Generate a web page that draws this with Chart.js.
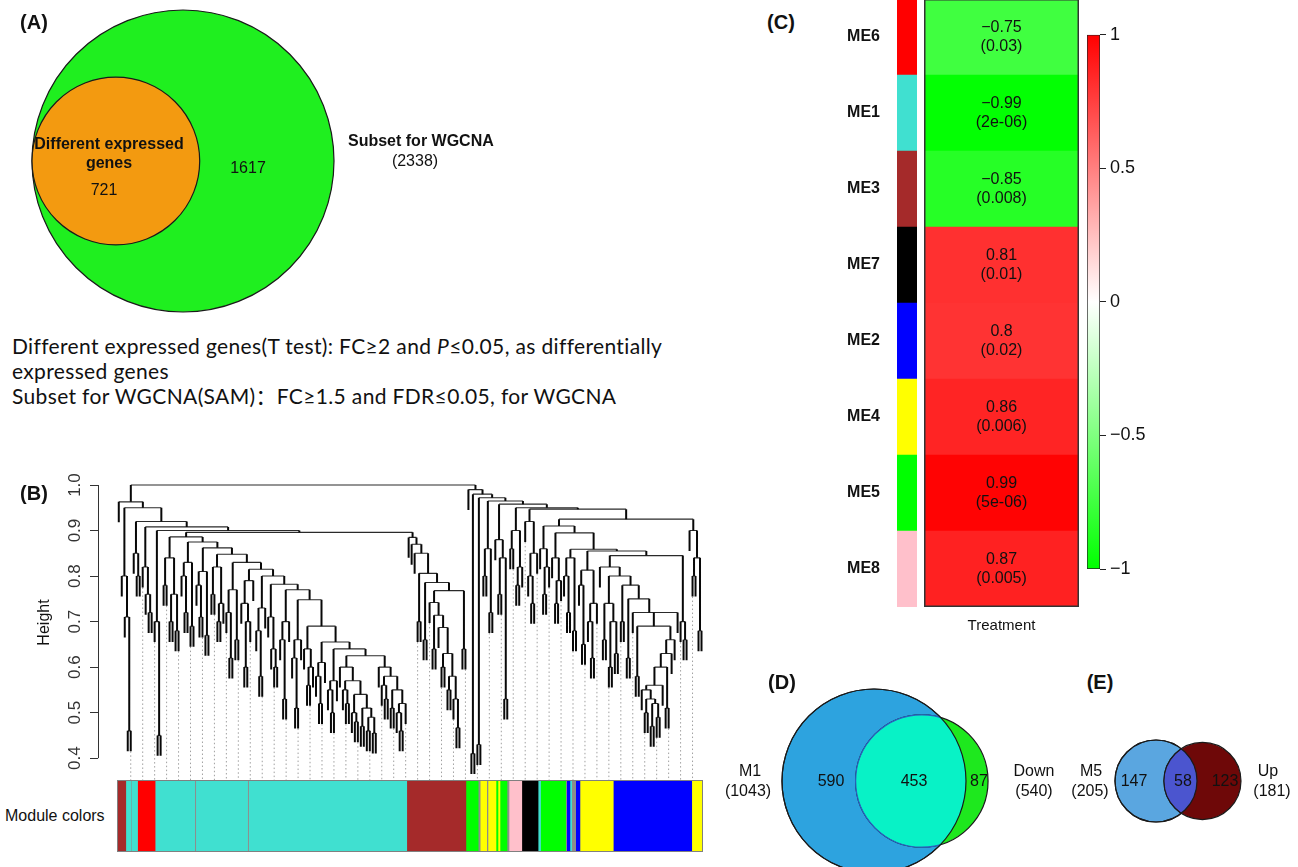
<!DOCTYPE html>
<html>
<head>
<meta charset="utf-8">
<title>WGCNA modules and treatment</title>
<script src="https://cdn.jsdelivr.net/npm/chart.js@4.4.1/dist/chart.umd.min.js"></script>
<style>
  body { margin: 0; background: #fff; }
  #page { position: relative; width: 1298px; height: 867px; overflow: hidden;
          font-family: "Liberation Sans", Arial, sans-serif; color: #111; }
  #page canvas { position: absolute; }
  .t { position: absolute; white-space: nowrap; font-size: 16px; line-height: 1; }
  .b { font-weight: bold; }
  .tag { font-weight: bold; font-size: 20px; }
  .mid { transform: translate(-50%, -50%); }
  .lft { transform: translate(0, -50%); }
  .cap { position: absolute; left: 12px; white-space: nowrap; font-size: 21px; line-height: 1; letter-spacing: 0.35px;
         font-family: Lato, "Noto Sans CJK SC", sans-serif; transform: translate(0, -50%); }
</style>
</head>
<body>
<div id="page">
  <div class="cap" style="top:345px">Different expressed genes(T test): FC≥2 and <i>P</i>≤0.05, as differentially</div>
  <div class="cap" style="top:370px">expressed genes</div>
  <div class="cap" style="top:395px">Subset for WGCNA(SAM)：FC≥1.5 and FDR≤0.05, for WGCNA</div>
</div>
<script>
// (A) gene subsets
var subsetNames = ['Subset for WGCNA', 'Different expressed genes'];
var subsetSizes = [2338, 721];

// (B) dendrogram, merge height between neighbouring leaves (left to right)
var geneCount = 2338;
var mergeHeights = [
  // left outliers
  0.963, 0.80, 0.71, 0.46,
  0.95, 0.85, 0.80, 0.92, 0.82, 0.76, 0.72, 0.908,
  0.70, 0.45, 0.90,
  // turquoise
  0.78, 0.84, 0.70, 0.76, 0.68, 0.886,
  0.80, 0.72, 0.83, 0.69, 0.875,
  0.78, 0.71, 0.81, 0.67, 0.862,
  0.76, 0.82, 0.70, 0.74, 0.848,
  0.72, 0.62, 0.77, 0.66, 0.83,
  0.74, 0.60, 0.70, 0.79, 0.815,
  0.68, 0.58, 0.73, 0.80,
  0.71, 0.64, 0.60, 0.782,
  0.66, 0.53, 0.70, 0.77,
  0.62, 0.51, 0.66, 0.748,
  0.64, 0.56, 0.60, 0.69,
  0.58, 0.52, 0.61, 0.655,
  0.55, 0.50, 0.57, 0.64,
  0.60, 0.55, 0.52, 0.57, 0.50, 0.48, 0.54, 0.47, 0.51, 0.46, 0.49, 0.455, 0.625,
  0.60, 0.56, 0.53, 0.58, 0.51, 0.55, 0.50, 0.46, 0.52,
  0.896,
  // brown
  0.885, 0.87, 0.85, 0.70, 0.806, 0.66, 0.786, 0.742, 0.64, 0.714, 0.687, 0.60, 0.63, 0.55, 0.58, 0.53, 0.467, 0.768, 0.64,
  1.0,
  // right branch
  0.99, 0.41, 0.98, 0.43, 0.972,
  0.80, 0.86, 0.72, 0.965,
  0.88, 0.76, 0.84, 0.53, 0.958,
  0.86, 0.90, 0.78, 0.82, 0.95,
  0.92, 0.80, 0.74, 0.85, 0.947,
  0.86, 0.76, 0.82, 0.91,
  0.84, 0.74, 0.79, 0.895,
  0.80, 0.72, 0.84, 0.68, 0.859,
  0.78, 0.65, 0.813, 0.70, 0.62, 0.74, 0.855,
  0.82, 0.66, 0.74, 0.60, 0.70, 0.63, 0.80,
  0.70, 0.78, 0.62, 0.75, 0.72, 0.58, 0.69, 0.55, 0.50, 0.53, 0.47, 0.52, 0.49, 0.56, 0.60, 0.51, 0.63, 0.66, 0.72, 0.845,
  0.70, 0.66, 0.925,
  0.90, 0.80, 0.84, 0.68
];
var heightTicks = [0.4, 0.5, 0.6, 0.7, 0.8, 0.9, 1.0];

// module colour runs under the dendrogram
var runColors = ['brown','turquoise','grey','turquoise','red','turquoise','grey','turquoise','grey','turquoise',
  'brown','green','grey','yellow','grey','yellow','green','yellow','green','grey','pink','black','turquoise',
  'green','grey','blue','turquoise','grey','blue','yellow','blue','yellow'];
var runSizes = [35, 20, 2, 25, 70, 158, 4, 207, 4, 631,
  236, 49, 8, 26, 5, 32, 8, 8, 28, 8, 51, 65, 10,
  100, 4, 13, 7, 16, 17, 133, 313, 45];

// (C) module eigengene vs treatment
var moduleNames = ['ME6', 'ME1', 'ME3', 'ME7', 'ME2', 'ME4', 'ME5', 'ME8'];
var moduleColors = ['red', 'turquoise', 'brown', 'black', 'blue', 'yellow', 'green', 'pink'];
var treatmentCor = [-0.75, -0.99, -0.85, 0.81, 0.8, 0.86, 0.99, 0.87];
var treatmentP = [0.03, 2e-6, 0.008, 0.01, 0.02, 0.006, 5e-6, 0.005];
var scaleTicks = [-1, -0.5, 0, 0.5, 1];

// (D) M1 vs down-regulated, (E) M5 vs up-regulated
var dNames = ['M1', 'Down'];
var dSizes = [1043, 540];
var dBoth = 453;
var eNames = ['M5', 'Up'];
var eSizes = [205, 181];
var eBoth = 58;

var rCol = { red: '#ff0000', turquoise: '#40e0d0', brown: '#a52a2a', black: '#000000', blue: '#0000ff',
  yellow: '#ffff00', green: '#00ff00', pink: '#ffc0cb', grey: '#8c8c8c' };

Chart.defaults.font.family = '"Liberation Sans", Arial, sans-serif';
Chart.defaults.color = '#111';
Chart.defaults.animation = false;
Chart.defaults.events = [];
Chart.defaults.plugins.legend.display = false;
Chart.defaults.plugins.tooltip.enabled = false;

var page = document.getElementById('page');

function put(text, x, y, cls) {
  var d = document.createElement('div');
  d.className = 't ' + (cls || 'mid');
  d.textContent = text;
  d.style.left = x + 'px';
  d.style.top = y + 'px';
  page.appendChild(d);
}

function makeCanvas(left, top, w, h) {
  var c = document.createElement('canvas');
  c.width = w; c.height = h;
  c.style.left = left + 'px'; c.style.top = top + 'px';
  c.style.width = w + 'px'; c.style.height = h + 'px';
  page.appendChild(c);
  return c;
}

function corColor(v) {
  var k = Math.round(255 * (1 - Math.abs(v)));
  return v > 0 ? 'rgb(255,' + k + ',' + k + ')' : 'rgb(' + k + ',255,' + k + ')';
}

function minus(s) { return String(s).replace('-', '\u2212'); }

// keep a vertical axis from eating into the plot height
function noEndPadding(s) { s.paddingTop = 0; s.paddingBottom = 0; }

function frame(color, width) {
  return {
    id: 'frame',
    afterDatasetsDraw: function (chart) {
      var a = chart.chartArea, c = chart.ctx;
      c.save();
      c.strokeStyle = color; c.lineWidth = width;
      c.strokeRect(a.left + width / 2, a.top + width / 2, a.right - a.left - width, a.bottom - a.top - width);
      c.restore();
    }
  };
}

// ---------- Venn diagrams ----------
function lensArea(R, r, d) {
  if (d >= R + r) return 0;
  if (d <= Math.abs(R - r)) return Math.PI * Math.min(R, r) * Math.min(R, r);
  var a = r * r * Math.acos((d * d + r * r - R * R) / (2 * d * r));
  var b = R * R * Math.acos((d * d + R * R - r * r) / (2 * d * R));
  var c = 0.5 * Math.sqrt((-d + r + R) * (d + r - R) * (d - r + R) * (d + r + R));
  return a + b - c;
}
function centreDistance(R, r, area) {
  var lo = Math.abs(R - r), hi = R + r;
  for (var i = 0; i < 60; i++) {
    var mid = (lo + hi) / 2;
    if (lensArea(R, r, mid) > area) lo = mid; else hi = mid;
  }
  return (lo + hi) / 2;
}
function radiusOf(n) { return Math.sqrt(n / Math.PI); }
function unitPx(chart) {
  var s = chart.scales.x;
  return Math.abs(s.getPixelForValue(1) - s.getPixelForValue(0));
}

function lensPlugin(fill, edge) {
  return {
    id: 'lens',
    afterDatasetsDraw: function (chart) {
      var a = chart.getDatasetMeta(0).data[0], b = chart.getDatasetMeta(1).data[0];
      var ra = a.options.radius, rb = b.options.radius, c = chart.ctx;
      c.save();
      c.beginPath(); c.arc(a.x, a.y, ra, 0, 2 * Math.PI); c.clip();
      c.beginPath(); c.arc(b.x, b.y, rb, 0, 2 * Math.PI);
      c.fillStyle = fill; c.fill();
      c.lineWidth = 1.2; c.strokeStyle = edge; c.stroke();
      c.restore();
      c.save();
      c.beginPath(); c.arc(a.x, a.y, ra, 0, 2 * Math.PI);
      c.lineWidth = 1.2; c.strokeStyle = '#1a1a1a'; c.stroke();
      c.restore();
    }
  };
}

// circles: [{x, r, fill}], first circle centred at canvas pixel (cx, cy), px pixels per unit
function vennChart(cv, cx, cy, px, circles, plugins) {
  var w = cv.width, h = cv.height;
  return new Chart(cv, {
    type: 'scatter',
    data: {
      datasets: circles.map(function (c, i) {
        return {
          data: [{ x: c.x, y: 0 }],
          rad: c.r,
          order: circles.length - i,
          pointStyle: 'circle',
          backgroundColor: c.fill,
          borderColor: '#1a1a1a',
          borderWidth: 1.2,
          pointRadius: function (ctx) { return ctx.dataset.rad * unitPx(ctx.chart); }
        };
      })
    },
    options: {
      responsive: false, devicePixelRatio: 1,
      layout: { padding: 0 },
      scales: {
        x: { type: 'linear', display: false, min: -cx / px, max: (w - cx) / px },
        y: { type: 'linear', display: false, min: -(h - cy) / px, max: cy / px }
      }
    },
    plugins: plugins || []
  });
}

// (A)
var aR = radiusOf(subsetSizes[0]), ar = radiusOf(subsetSizes[1]);
vennChart(makeCanvas(20, 0, 340, 322), 163, 161, 151 / aR, [
  { x: 0, r: aR, fill: '#1fef1f' },
  { x: -(aR - ar), r: ar, fill: '#f39a10' }
]);
put('(A)', 34, 22, 'tag mid');
put('Different expressed', 109, 144, 'b mid');
put('genes', 109, 163, 'b mid');
put(String(subsetSizes[1]), 104, 190);
put(String(subsetSizes[0] - subsetSizes[1]), 248, 168);
put(subsetNames[0], 348, 141, 'b lft');
put('(' + subsetSizes[0] + ')', 415, 161);

// (D)
var dR = radiusOf(dSizes[0]), dr = radiusOf(dSizes[1]);
vennChart(makeCanvas(770, 670, 240, 197), 104, 111, 92 / dR, [
  { x: 0, r: dR, fill: '#2da3df' },
  { x: centreDistance(dR, dr, dBoth), r: dr, fill: '#1ee81e' }
], [lensPlugin('#08f2c6', '#2a62c4')]);
put('(D)', 782, 682, 'tag mid');
put(dNames[0], 750, 771);
put('(' + dSizes[0] + ')', 748, 791);
put(String(dSizes[0] - dBoth), 831, 781);
put(String(dBoth), 914, 781);
put(String(dSizes[1] - dBoth), 979, 781);
put(dNames[1], 1034, 771);
put('(' + dSizes[1] + ')', 1034, 791);

// (E)
var eR = radiusOf(eSizes[0]), er = radiusOf(eSizes[1]);
vennChart(makeCanvas(1105, 725, 160, 112), 51, 56, 41 / eR, [
  { x: 0, r: eR, fill: '#5aa6e0' },
  { x: centreDistance(eR, er, eBoth), r: er, fill: '#6e0808' }
], [lensPlugin('#4b55cf', '#1a1a1a')]);
put('(E)', 1100, 682, 'tag mid');
put(eNames[0], 1091, 771);
put('(' + eSizes[0] + ')', 1090, 791);
put(String(eSizes[0] - eBoth), 1134, 781);
put(String(eBoth), 1183, 781);
put(String(eSizes[1] - eBoth), 1225, 781);
put(eNames[1], 1268, 771);
put('(' + eSizes[1] + ')', 1272, 791);

// ---------- (B) dendrogram ----------
var leafCount = mergeHeights.length + 1;
var hang = 0.045;
function leafX(i) { return (i + 0.5) * geneCount / leafCount; }
function buildTree(lo, hi) {
  if (lo === hi) return { leaf: lo, x: leafX(lo) };
  var k = lo;
  for (var i = lo; i < hi; i++) if (mergeHeights[i] > mergeHeights[k]) k = i;
  var left = buildTree(lo, k), right = buildTree(k + 1, hi);
  return { h: mergeHeights[k], left: left, right: right, x: (left.x + right.x) / 2 };
}
var tree = buildTree(0, leafCount - 1);
var stemPts = [];
var barPts = [];
var leafBottom = [];
function walk(n) {
  if (n.leaf !== undefined) return;
  var lb = n.left.leaf !== undefined ? n.h - hang : n.left.h;
  var rb = n.right.leaf !== undefined ? n.h - hang : n.right.h;
  if (n.left.leaf !== undefined) leafBottom[n.left.leaf] = lb;
  if (n.right.leaf !== undefined) leafBottom[n.right.leaf] = rb;
  stemPts.push({ x: n.left.x, y: lb }, { x: n.left.x, y: n.h }, { x: n.left.x, y: null },
    { x: n.right.x, y: rb }, { x: n.right.x, y: n.h }, { x: n.right.x, y: null });
  barPts.push({ x: n.left.x, y: n.h }, { x: n.right.x, y: n.h }, { x: n.right.x, y: null });
  walk(n.left); walk(n.right);
}
walk(tree);

// canvas spans y 465..780, 1.0 sits at 485 and 0.4 at 757
var yBottom = 0.352, yTop = 1.044;
var guidePts = [];
for (var g = 4; g < leafCount; g += 4) {
  guidePts.push({ x: leafX(g), y: leafBottom[g] }, { x: leafX(g), y: yBottom }, { x: leafX(g), y: null });
}

var axisLine = {
  id: 'axisLine',
  afterDraw: function (chart) {
    var s = chart.scales.y, c = chart.ctx, x = Math.round(chart.chartArea.left) + 0.5;
    c.save();
    c.strokeStyle = '#333'; c.lineWidth = 1;
    c.beginPath();
    c.moveTo(x, s.getPixelForValue(heightTicks[0]));
    c.lineTo(x, s.getPixelForValue(heightTicks[heightTicks.length - 1]));
    c.stroke();
    c.restore();
  }
};

new Chart(makeCanvas(30, 465, 676, 315), {
  type: 'line',
  data: {
    datasets: [
      { data: stemPts, borderColor: '#080808', borderWidth: 2, pointRadius: 0, spanGaps: false, tension: 0, order: 0 },
      { data: barPts, borderColor: '#2a2a2a', borderWidth: 1.1, pointRadius: 0, spanGaps: false, tension: 0, order: 1 },
      { data: guidePts, borderColor: '#a0a0a0', borderWidth: 1, borderDash: [1.5, 2.5], pointRadius: 0, spanGaps: false, order: 2 }
    ]
  },
  options: {
    responsive: false, devicePixelRatio: 1,
    layout: { padding: { right: 3 } },
    scales: {
      x: { type: 'linear', display: false, min: -77, max: geneCount },
      y: {
        type: 'linear', min: yBottom, max: yTop,
        afterBuildTicks: function (s) { s.ticks = heightTicks.map(function (v) { return { value: v }; }); },
        afterFit: function (s) { s.width = 68; noEndPadding(s); },
        ticks: {
          font: { size: 17 }, color: '#333', minRotation: 90, maxRotation: 90, crossAlign: 'center', padding: 3,
          callback: function (v) { return v.toFixed(1); }
        },
        grid: { display: true, drawOnChartArea: false, drawTicks: true, tickLength: 8, color: '#333' },
        border: { display: false },
        title: { display: true, text: 'Height', font: { size: 16 }, color: '#111', padding: { top: 5, bottom: 0 } }
      }
    }
  },
  plugins: [axisLine]
});
put('(B)', 34, 493, 'tag mid');
put('Module colors', 5, 816, 'lft');

new Chart(makeCanvas(117, 780, 586, 72), {
  type: 'bar',
  data: {
    labels: ['Module colors'],
    datasets: runSizes.map(function (n, i) {
      return { data: [n], backgroundColor: rCol[runColors[i]], borderWidth: 0, barPercentage: 1, categoryPercentage: 1 };
    })
  },
  options: {
    responsive: false, devicePixelRatio: 1, indexAxis: 'y',
    layout: { padding: 0 },
    scales: {
      x: { stacked: true, display: false, min: 0, max: geneCount },
      y: { stacked: true, display: false }
    }
  },
  plugins: [frame('#808080', 1)]
});

// ---------- (C) module-trait heatmap ----------
put('(C)', 781, 22, 'tag mid');

new Chart(makeCanvas(820, -1, 97, 608), {
  type: 'bar',
  data: {
    labels: moduleNames,
    datasets: [{
      data: moduleNames.map(function () { return 1; }),
      backgroundColor: moduleColors.map(function (c) { return rCol[c]; }),
      borderWidth: 0, barPercentage: 1, categoryPercentage: 1
    }]
  },
  options: {
    responsive: false, devicePixelRatio: 1, indexAxis: 'y',
    layout: { padding: 0 },
    scales: {
      x: { display: false, min: 0, max: 1 },
      y: {
        grid: { display: false }, border: { display: false },
        ticks: { font: { size: 16, weight: 'bold' }, color: '#111', padding: 9 },
        afterFit: function (s) { s.width = 77; noEndPadding(s); }
      }
    }
  }
});

function fmtP(p) {
  if (p >= 1e-3) return String(p);
  return p.toExponential(0).replace(/e-(\d)$/, 'e-0$1');
}
var cellText = {
  id: 'cellText',
  afterDatasetsDraw: function (chart) {
    var c = chart.ctx;
    c.save();
    c.fillStyle = '#111';
    c.font = '16px "Liberation Sans", Arial, sans-serif';
    c.textAlign = 'center'; c.textBaseline = 'middle';
    chart.getDatasetMeta(0).data.forEach(function (el, i) {
      var cx = (el.x + el.base) / 2;
      c.fillText(minus(treatmentCor[i]), cx, el.y - 9);
      c.fillText('(' + fmtP(treatmentP[i]) + ')', cx, el.y + 10);
    });
    c.restore();
  }
};

new Chart(makeCanvas(923, -1, 157, 640), {
  type: 'bar',
  data: {
    labels: moduleNames,
    datasets: [{
      data: treatmentCor.map(function () { return 1; }),
      backgroundColor: treatmentCor.map(corColor),
      borderWidth: 0, barPercentage: 1, categoryPercentage: 1
    }]
  },
  options: {
    responsive: false, devicePixelRatio: 1, indexAxis: 'y',
    layout: { padding: { left: 1, right: 1 } },
    scales: {
      x: {
        min: 0, max: 1,
        ticks: { display: false }, grid: { display: false }, border: { display: false },
        title: { display: true, text: 'Treatment', font: { size: 15 }, color: '#111', padding: { top: 9 } },
        afterFit: function (s) { s.height = 32; }
      },
      y: { display: false }
    }
  },
  plugins: [cellText, frame('#333', 1.5)]
});

// colour key
new Chart(makeCanvas(1080, 20, 110, 565), {
  type: 'bar',
  data: {
    labels: ['key'],
    datasets: [{
      data: [[scaleTicks[0], scaleTicks[scaleTicks.length - 1]]],
      backgroundColor: function (ctx) {
        var a = ctx.chart.chartArea;
        if (!a) return '#fff';
        var gr = ctx.chart.ctx.createLinearGradient(0, a.bottom, 0, a.top);
        gr.addColorStop(0, corColor(-1));
        gr.addColorStop(0.5, corColor(0));
        gr.addColorStop(1, corColor(1));
        return gr;
      },
      borderColor: '#222', borderWidth: 1, borderSkipped: false,
      barPercentage: 1, categoryPercentage: 1
    }]
  },
  options: {
    responsive: false, devicePixelRatio: 1,
    layout: { padding: { top: 14, bottom: 16, left: 7 } },
    scales: {
      x: { display: false },
      y: {
        position: 'right', min: scaleTicks[0], max: scaleTicks[scaleTicks.length - 1],
        afterBuildTicks: function (s) { s.ticks = scaleTicks.map(function (v) { return { value: v }; }); },
        afterFit: function (s) { s.width = 90; },
        ticks: { font: { size: 18 }, color: '#111', padding: 4, callback: function (v) { return minus(v); } },
        grid: { display: true, drawOnChartArea: false, tickLength: 6, color: '#222' },
        border: { display: false }
      }
    }
  }
});
</script>
</body>
</html>
